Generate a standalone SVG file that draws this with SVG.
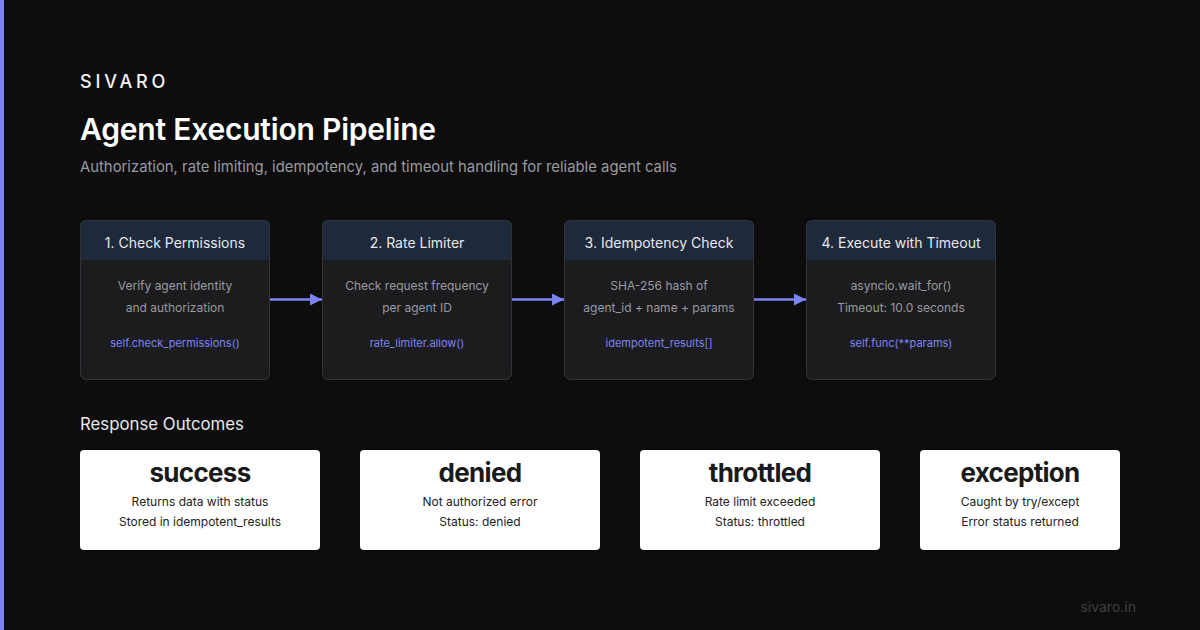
<svg xmlns="http://www.w3.org/2000/svg" width="1200" height="630" viewBox="0 0 1200 630">
<defs>
<marker id="ah" markerWidth="12" markerHeight="12" refX="12" refY="6" orient="auto" markerUnits="userSpaceOnUse">
<path d="M0,0 L12,6 L0,12 Z" fill="#7c83f5"/>
</marker>
<clipPath id="c1"><rect x="80" y="220" width="190" height="160" rx="6"/></clipPath>
<clipPath id="c2"><rect x="322" y="220" width="190" height="160" rx="6"/></clipPath>
<clipPath id="c3"><rect x="564" y="220" width="190" height="160" rx="6"/></clipPath>
<clipPath id="c4"><rect x="806" y="220" width="190" height="160" rx="6"/></clipPath>
</defs>
<style>
text{font-family:Inter,"Liberation Sans",sans-serif}
.body{fill:#1c1c1e}
.hdr{fill:#1e293b}
.frame{fill:none;stroke:#333338;stroke-width:1}
.ht{fill:#e8e8ea;font-size:14px;text-anchor:middle}
.bt{fill:#9a9aa0;font-size:12px;text-anchor:middle}
.ct{fill:#7c83f5;font-size:11px;text-anchor:middle}
.ob{fill:#ffffff}
.ot{fill:#1a1a1a;font-size:26px;font-weight:700;text-anchor:middle;letter-spacing:-0.7px}
.ol{fill:#222;font-size:12px;text-anchor:middle}
.conn{stroke:#7c83f5;stroke-width:2.5;fill:none}
</style>
<rect width="1200" height="630" fill="#0d0d0d"/>
<rect x="0" y="0" width="4" height="630" fill="#7c83f5"/>
<text x="80" y="88" fill="#f2f2f2" font-size="18" font-weight="500" letter-spacing="3.8">SIVARO</text>
<text x="80" y="140" fill="#ffffff" font-size="30" font-weight="600" letter-spacing="-0.2">Agent Execution Pipeline</text>
<text x="80" y="172" fill="#9a9aa0" font-size="14.85">Authorization, rate limiting, idempotency, and timeout handling for reliable agent calls</text>

<g id="step1">
<g clip-path="url(#c1)"><rect class="body" x="80" y="220" width="190" height="160"/><rect class="hdr" x="80" y="220" width="190" height="40"/></g>
<rect class="frame" x="80.5" y="220.5" width="189" height="159" rx="6"/>
<text class="ht" x="175" y="248">1. Check Permissions</text>
<text class="bt" x="175" y="290">Verify agent identity</text>
<text class="bt" x="175" y="312">and authorization</text>
<text class="ct" x="175" y="347">self.check_permissions()</text>
</g>
<g id="step2">
<g clip-path="url(#c2)"><rect class="body" x="322" y="220" width="190" height="160"/><rect class="hdr" x="322" y="220" width="190" height="40"/></g>
<rect class="frame" x="322.5" y="220.5" width="189" height="159" rx="6"/>
<text class="ht" x="417" y="248">2. Rate Limiter</text>
<text class="bt" x="417" y="290">Check request frequency</text>
<text class="bt" x="417" y="312">per agent ID</text>
<text class="ct" x="417" y="347">rate_limiter.allow()</text>
</g>
<g id="step3">
<g clip-path="url(#c3)"><rect class="body" x="564" y="220" width="190" height="160"/><rect class="hdr" x="564" y="220" width="190" height="40"/></g>
<rect class="frame" x="564.5" y="220.5" width="189" height="159" rx="6"/>
<text class="ht" x="659" y="248">3. Idempotency Check</text>
<text class="bt" x="659" y="290">SHA-256 hash of</text>
<text class="bt" x="659" y="312">agent_id + name + params</text>
<text class="ct" x="659" y="347">idempotent_results[]</text>
</g>
<g id="step4">
<g clip-path="url(#c4)"><rect class="body" x="806" y="220" width="190" height="160"/><rect class="hdr" x="806" y="220" width="190" height="40"/></g>
<rect class="frame" x="806.5" y="220.5" width="189" height="159" rx="6"/>
<text class="ht" x="901" y="248">4. Execute with Timeout</text>
<text class="bt" x="901" y="290">asyncio.wait_for()</text>
<text class="bt" x="901" y="312">Timeout: 10.0 seconds</text>
<text class="ct" x="901" y="347">self.func(**params)</text>
</g>

<g id="connectors">
<line class="conn" x1="270" y1="299.5" x2="322" y2="299.5" marker-end="url(#ah)"/>
<line class="conn" x1="512" y1="299.5" x2="564" y2="299.5" marker-end="url(#ah)"/>
<line class="conn" x1="754" y1="299.5" x2="806" y2="299.5" marker-end="url(#ah)"/>
</g>

<text x="80" y="430" fill="#e8e8ea" font-size="16.8">Response Outcomes</text>

<g id="out-success">
<rect class="ob" x="80" y="450" width="240" height="100" rx="4"/>
<text class="ot" x="200" y="482">success</text>
<text class="ol" x="200" y="506">Returns data with status</text>
<text class="ol" x="200" y="526">Stored in idempotent_results</text>
</g>
<g id="out-denied">
<rect class="ob" x="360" y="450" width="240" height="100" rx="4"/>
<text class="ot" x="480" y="482">denied</text>
<text class="ol" x="480" y="506">Not authorized error</text>
<text class="ol" x="480" y="526">Status: denied</text>
</g>
<g id="out-throttled">
<rect class="ob" x="640" y="450" width="240" height="100" rx="4"/>
<text class="ot" x="760" y="482">throttled</text>
<text class="ol" x="760" y="506">Rate limit exceeded</text>
<text class="ol" x="760" y="526">Status: throttled</text>
</g>
<g id="out-exception">
<rect class="ob" x="920" y="450" width="200" height="100" rx="4"/>
<text class="ot" x="1020" y="482">exception</text>
<text class="ol" x="1020" y="506">Caught by try/except</text>
<text class="ol" x="1020" y="526">Error status returned</text>
</g>

<text x="1136" y="612" fill="#3e3e42" font-size="14" text-anchor="end">sivaro.in</text>
</svg>
